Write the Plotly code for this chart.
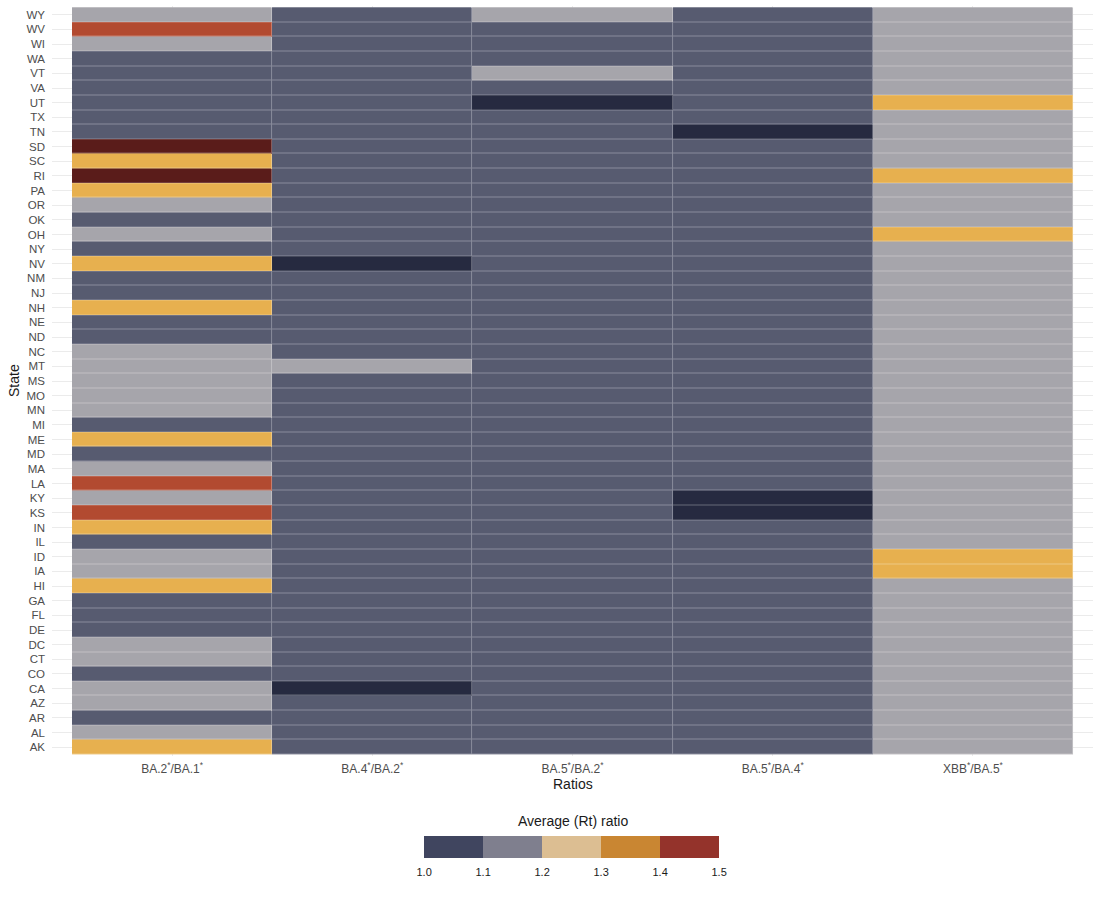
import plotly.graph_objects as go

# ---------------- data ----------------
states = ["AK", "AL", "AR", "AZ", "CA", "CO", "CT", "DC", "DE", "FL", "GA", "HI", "IA", "ID",
          "IL", "IN", "KS", "KY", "LA", "MA", "MD", "ME", "MI", "MN", "MO", "MS", "MT", "NC",
          "ND", "NE", "NH", "NJ", "NM", "NV", "NY", "OH", "OK", "OR", "PA", "RI", "SC", "SD",
          "TN", "TX", "UT", "VA", "VT", "WA", "WI", "WV", "WY"]

ratios = ["BA.2<sup>*</sup>/BA.1<sup>*</sup>", "BA.4<sup>*</sup>/BA.2<sup>*</sup>",
          "BA.5<sup>*</sup>/BA.2<sup>*</sup>", "BA.5<sup>*</sup>/BA.4<sup>*</sup>",
          "XBB<sup>*</sup>/BA.5<sup>*</sup>"]

# tile colour class per state (order of `states`), one list per ratio column
# 0 = lowest (navy), 1 = slate, 2 = grey, 3 = yellow, 4 = red, 5 = highest (maroon)
ba2_ba1 = [3, 2, 1, 2, 2, 1, 2, 2, 1, 1, 1, 3, 2, 2,
           1, 3, 4, 2, 4, 2, 1, 3, 1, 2, 2, 2, 2, 2,
           1, 1, 3, 1, 1, 3, 1, 2, 1, 2, 3, 5, 3, 5,
           1, 1, 1, 1, 1, 1, 2, 4, 2]
ba4_ba2 = [1, 1, 1, 1, 0, 1, 1, 1, 1, 1, 1, 1, 1, 1,
           1, 1, 1, 1, 1, 1, 1, 1, 1, 1, 1, 1, 2, 1,
           1, 1, 1, 1, 1, 0, 1, 1, 1, 1, 1, 1, 1, 1,
           1, 1, 1, 1, 1, 1, 1, 1, 1]
ba5_ba2 = [1, 1, 1, 1, 1, 1, 1, 1, 1, 1, 1, 1, 1, 1,
           1, 1, 1, 1, 1, 1, 1, 1, 1, 1, 1, 1, 1, 1,
           1, 1, 1, 1, 1, 1, 1, 1, 1, 1, 1, 1, 1, 1,
           1, 1, 0, 1, 2, 1, 1, 1, 2]
ba5_ba4 = [1, 1, 1, 1, 1, 1, 1, 1, 1, 1, 1, 1, 1, 1,
           1, 1, 0, 0, 1, 1, 1, 1, 1, 1, 1, 1, 1, 1,
           1, 1, 1, 1, 1, 1, 1, 1, 1, 1, 1, 1, 1, 1,
           0, 1, 1, 1, 1, 1, 1, 1, 1]
xbb_ba5 = [2, 2, 2, 2, 2, 2, 2, 2, 2, 2, 2, 2, 3, 3,
           2, 2, 2, 2, 2, 2, 2, 2, 2, 2, 2, 2, 2, 2,
           2, 2, 2, 2, 2, 2, 2, 3, 2, 2, 2, 3, 2, 2,
           2, 2, 3, 2, 2, 2, 2, 2, 2]

tile_colors = ["#262a40", "#575b70", "#a6a5ab", "#e7b04f", "#b24a30", "#5a1c1a"]

legend_title = "Average (Rt) ratio"
legend_breaks = [1.0, 1.1, 1.2, 1.3, 1.4, 1.5]
legend_colors = ["#40455f", "#7f7f8e", "#dcbe92", "#c98632", "#94332b"]

# ---------------- helpers ----------------
def lighten(hexc, f):
    h = hexc.lstrip("#")
    r, g, b = (int(h[i:i + 2], 16) for i in (0, 2, 4))
    r, g, b = (round(c + (255 - c) * f) for c in (r, g, b))
    return f"#{r:02x}{g:02x}{b:02x}"

def discrete_scale(colors):
    n = len(colors)
    scale = []
    for i, c in enumerate(colors):
        scale.append([i / n, c])
        scale.append([(i + 1) / n, c])
    return scale

columns = [ba2_ba1, ba4_ba2, ba5_ba2, ba5_ba4, xbb_ba5]
z = [[col[r] for col in columns] for r in range(len(states))]
xs = list(range(len(ratios)))
ys = list(range(len(states)))
nclass = len(tile_colors)

fig = go.Figure()
# under-layer: lighter version of each tile colour (shows as thin tile borders)
fig.add_trace(go.Heatmap(
    z=z, x=xs, y=ys, zmin=-0.5, zmax=nclass - 0.5,
    colorscale=discrete_scale([lighten(c, 0.3) for c in tile_colors]),
    showscale=False, hoverinfo="skip"))
# main tiles
fig.add_trace(go.Heatmap(
    z=z, x=xs, y=ys, zmin=-0.5, zmax=nclass - 0.5,
    colorscale=discrete_scale(tile_colors),
    xgap=1, ygap=1, showscale=False))

# legend colour steps
fig.add_trace(go.Scatter(
    x=[None], y=[None], mode="markers", showlegend=False,
    marker=dict(
        color=[legend_breaks[0]], cmin=legend_breaks[0], cmax=legend_breaks[-1],
        colorscale=discrete_scale(legend_colors), showscale=True,
        colorbar=dict(
            orientation="h", x=0.5491, xanchor="center", xref="container",
            y=1 - 836 / 900, yanchor="top", yref="container",
            len=295, lenmode="pixels", thickness=22, xpad=0, ypad=0,
            outlinewidth=0, tickvals=legend_breaks,
            ticktext=[f"{v:.1f}" for v in legend_breaks],
            ticks="outside", ticklen=5, tickcolor="rgba(0,0,0,0)",
            tickfont=dict(family="Liberation Sans", size=11, color="#1a1a1a")))))

fig.update_layout(
    width=1100, height=900,
    margin=dict(l=52, r=7, t=6, b=144),
    paper_bgcolor="white", plot_bgcolor="white",
    font=dict(family="Liberation Sans", color="#4d4d4d"),
    xaxis=dict(range=[-0.6, len(ratios) - 0.4], tickvals=xs, ticktext=ratios,
               showgrid=True, gridcolor="#ebebeb", gridwidth=1, zeroline=False,
               ticks="", ticklabelstandoff=4,
               tickfont=dict(size=12, color="#4d4d4d"), fixedrange=True),
    yaxis=dict(range=[-0.6, len(states) - 0.4], tickvals=ys, ticktext=states,
               showgrid=True, gridcolor="#ebebeb", gridwidth=1, zeroline=False,
               ticks="", ticklabelstandoff=6,
               tickfont=dict(size=11.5, color="#4d4d4d"), fixedrange=True),
    annotations=[
        dict(text="Ratios", xref="paper", yref="paper", x=0.5, y=-(784 - 756) / 750,
             xanchor="center", yanchor="middle", showarrow=False,
             font=dict(size=14, color="#1a1a1a")),
        dict(text="State", xref="paper", yref="paper", x=(14 - 52) / 1041, y=0.5,
             xanchor="center", yanchor="middle", textangle=-90, showarrow=False,
             font=dict(size=14, color="#1a1a1a")),
        dict(text=legend_title, xref="paper", yref="paper", x=0.5, y=-(821 - 756) / 750,
             xanchor="center", yanchor="middle", showarrow=False,
             font=dict(size=14, color="#1a1a1a")),
    ],
)

fig.write_html("out.html")
